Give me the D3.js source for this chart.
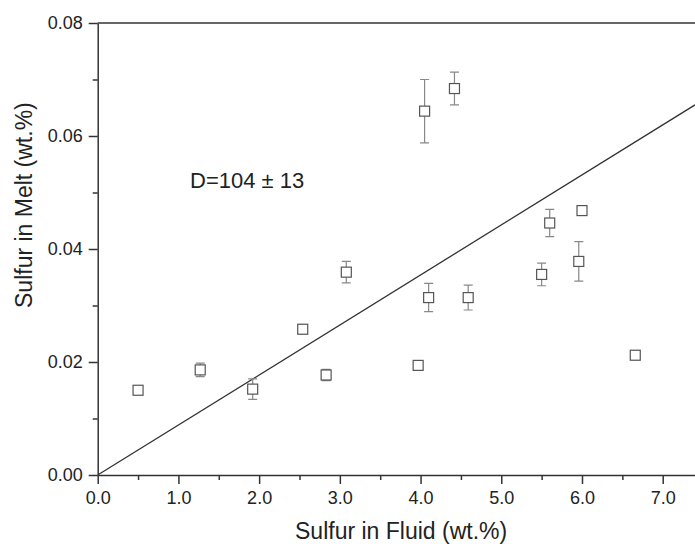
<!DOCTYPE html>
<html lang="en">
<meta charset="utf-8"/>
<head>
<style>
  body { margin: 0; background: #fff; }
  text { font-family: "Liberation Sans", Arial, sans-serif; fill: #222; }
  .tick text { font-size: 18px; }
  .axis path, .axis line { stroke: #333; stroke-width: 1.5; }
</style>
</head>
<body>
<svg id="chart" width="695" height="544"></svg>

<script src="https://d3js.org/d3.v7.min.js"></script>
<script>
  // sulfur in fluid (x) and melt (y), wt.%
  let fluid = [0.50, 1.27, 1.92, 2.54, 2.83, 3.08, 3.97, 4.10, 4.59, 5.50, 5.60, 5.96, 6.00, 6.66, 4.05, 4.42]
  let melt  = [0.0150, 0.0186, 0.0152, 0.0258, 0.0177, 0.0359, 0.0194, 0.0314, 0.0314, 0.0355, 0.0446, 0.0378, 0.0468, 0.0212, 0.0644, 0.0684]
  let err   = [0.0005, 0.0012, 0.0018, 0.0008, 0.0010, 0.0019, 0.0008, 0.0025, 0.0022, 0.0020, 0.0024, 0.0035, 0.0003, 0.0008, 0.0056, 0.0029]

  let xTicks = [0, 1, 2, 3, 4, 5, 6, 7]
  let xMinor = [0.5, 1.5, 2.5, 3.5, 4.5, 5.5, 6.5]
  let yTicks = [0, 0.02, 0.04, 0.06, 0.08]
  let yMinor = [0.01, 0.03, 0.05, 0.07]

  // fit line through the origin
  let fitX = [0, 7.4]
  let fitY = [0, 0.0655]

  let svg = d3.select("#chart")
  let padLeft = 97.7, padRight = 695, padTop = 23, padBottom = 475

  let xScale = d3.scaleLinear().domain([0, 7.4]).range([padLeft, padRight])
  let yScale = d3.scaleLinear().domain([0, 0.08]).range([padBottom, padTop])

  // minor ticks
  svg.append("g").attr("class", "axis")
    .attr("transform", "translate(0," + padBottom + ")")
    .call(d3.axisBottom(xScale).tickValues(xMinor).tickSize(5).tickSizeOuter(0).tickFormat(""))
    .select(".domain").remove()
  svg.append("g").attr("class", "axis")
    .attr("transform", "translate(" + padLeft + ",0)")
    .call(d3.axisLeft(yScale).tickValues(yMinor).tickSize(5).tickSizeOuter(0).tickFormat(""))
    .select(".domain").remove()

  // major axes
  svg.append("g").attr("class", "axis")
    .attr("transform", "translate(0," + padBottom + ")")
    .call(d3.axisBottom(xScale).tickValues(xTicks).tickSize(9).tickSizeOuter(0).tickPadding(7).tickFormat(d3.format(".1f")))
  svg.append("g").attr("class", "axis")
    .attr("transform", "translate(" + padLeft + ",0)")
    .call(d3.axisLeft(yScale).tickValues(yTicks).tickSize(9).tickSizeOuter(0).tickPadding(6).tickFormat(d3.format(".2f")))

  // top frame line
  svg.append("line")
    .attr("x1", xScale(0)).attr("x2", xScale(7.4))
    .attr("y1", yScale(0.08)).attr("y2", yScale(0.08))
    .attr("stroke", "#333").attr("stroke-width", 1.5)

  // fit line
  svg.append("line")
    .attr("x1", xScale(fitX[0])).attr("y1", yScale(fitY[0]))
    .attr("x2", xScale(fitX[1])).attr("y2", yScale(fitY[1]))
    .attr("stroke", "#333").attr("stroke-width", 1.3)

  let pts = fluid.map((f, i) => ({x: f, y: melt[i], e: err[i]}))
  let cap = 4.5, half = 5

  let g = svg.append("g")
  // error bars
  g.selectAll(".err").data(pts).enter().append("path")
    .attr("d", d => {
      let cx = xScale(d.x), y1 = yScale(d.y + d.e), y2 = yScale(d.y - d.e)
      return "M" + cx + "," + y1 + "V" + y2 +
        "M" + (cx - cap) + "," + y1 + "H" + (cx + cap) +
        "M" + (cx - cap) + "," + y2 + "H" + (cx + cap)
    })
    .attr("stroke", "#888").attr("stroke-width", 1.2).attr("fill", "none")

  // square markers
  g.selectAll(".dot").data(pts).enter().append("rect")
    .attr("x", d => xScale(d.x) - half)
    .attr("y", d => yScale(d.y) - half)
    .attr("width", half * 2).attr("height", half * 2)
    .attr("fill", "#fff").attr("stroke", "#555").attr("stroke-width", 1.2)

  // annotation
  svg.append("text").attr("x", 190).attr("y", 188)
    .style("font-size", "22px")
    .text("D=104 \u00b1 13")

  // axis titles
  svg.append("text")
    .attr("x", 295).attr("y", 539)
    .style("font-size", "23px")
    .text("Sulfur in Fluid (wt.%)")
  svg.append("text")
    .attr("transform", "translate(32,308) rotate(-90)")
    .style("font-size", "23px")
    .text("Sulfur in Melt (wt.%)")
</script>
</body>
</html>
